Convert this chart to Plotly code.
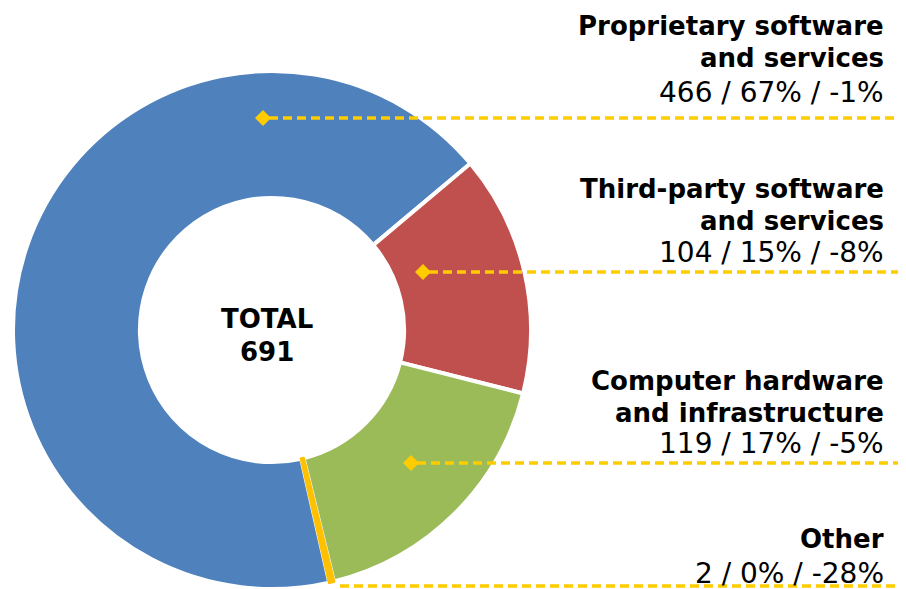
import plotly.graph_objects as go

# ---- data ----
categories = ["Proprietary software and services", "Third-party software and services",
              "Computer hardware and infrastructure", "Other"]
title_lines = [["Proprietary software", "and services"],
               ["Third-party software", "and services"],
               ["Computer hardware", "and infrastructure"],
               ["Other"]]
values = [466, 104, 119, 2]
shares = ["67%", "15%", "17%", "0%"]
changes = ["-1%", "-8%", "-5%", "-28%"]
total = sum(values)

colors = ["#4F81BD", "#C0504D", "#9BBB59", "#FFC000"]
leader_color = "#FFCC00"

# screen is 906x589; the page body adds an 8px margin, so the figure is 898x581
SW, SH, OFF = 906, 589, 8
W, H = SW - OFF, SH - OFF
# pie geometry (screen pixels)
cx, top, R = 272, 71, 260

# leader layout (screen px): (diamond x, line y, value-line center y, first title-line center y)
leaders = [
    (263, 118, 92, 26),
    (423, 272, 252, 189),
    (411, 463, 443, 381),
    (None, 586, 573, 539),
]
line_start_other = 334
TEXT_X = 886
LINE_GAP = 32

fig = go.Figure()

fig.add_trace(go.Pie(
    labels=categories, values=values, sort=False, direction="clockwise",
    rotation=50 - values[0] / total * 360,
    hole=0.51,
    marker=dict(colors=colors,
                line=dict(color=["white", "white", "white", "#FFC000"], width=[4, 4, 4, 3])),
    textinfo="none", hoverinfo="label+value+percent", showlegend=False,
    domain=dict(x=[(cx - R - OFF) / W, (cx + R - OFF) / W],
                y=[max(0, 1 - (top + 2 * R - OFF) / H), 1 - (top - OFF) / H]),
))

# invisible pixel axes for overlays (screen coordinates)
fig.add_trace(go.Scatter(x=[OFF, SW], y=[OFF, SH], mode="markers", marker=dict(opacity=0),
                         hoverinfo="skip", showlegend=False))

shapes = []
annotations = []
for i, (dx, ly, vy, ty) in enumerate(leaders):
    x0 = dx if dx is not None else line_start_other
    shapes.append(dict(type="line", xref="x", yref="y", x0=x0 + 6, x1=SW, y0=ly, y1=ly,
                       line=dict(color=leader_color, width=3.5, dash="9px,5px"), layer="above"))
    if dx is not None:
        s = 8
        shapes.append(dict(type="path", xref="x", yref="y",
                           path=f"M{dx - s},{ly} L{dx},{ly - s} L{dx + s},{ly} L{dx},{ly + s} Z",
                           fillcolor=leader_color, line=dict(width=0), layer="above"))
    for j, t in enumerate(title_lines[i]):
        annotations.append(dict(xref="x", yref="y", x=TEXT_X, y=ty + j * LINE_GAP,
                                xanchor="right", yanchor="middle", showarrow=False,
                                text=f"<b>{t}</b>",
                                font=dict(family="DejaVu Sans", size=26, color="black")))
    annotations.append(dict(xref="x", yref="y", x=TEXT_X, y=vy, xanchor="right", yanchor="middle",
                            showarrow=False,
                            text=f"{values[i]} / {shares[i]} / {changes[i]}",
                            font=dict(family="DejaVu Sans", size=28, color="black")))

annotations.append(dict(xref="x", yref="y", x=267, y=319, xanchor="center", yanchor="middle",
                        showarrow=False, text="<b>TOTAL</b>",
                        font=dict(family="DejaVu Sans", size=26, color="black")))
annotations.append(dict(xref="x", yref="y", x=267, y=352, xanchor="center", yanchor="middle",
                        showarrow=False, text=f"<b>{total}</b>",
                        font=dict(family="DejaVu Sans", size=26, color="black")))

fig.update_layout(
    width=W, height=H, margin=dict(l=0, r=0, t=0, b=0),
    paper_bgcolor="white", plot_bgcolor="rgba(0,0,0,0)",
    xaxis=dict(range=[OFF, SW], visible=False, fixedrange=True),
    yaxis=dict(range=[SH, OFF], visible=False, fixedrange=True),
    shapes=shapes, annotations=annotations,
)

fig.write_html("out.html")
